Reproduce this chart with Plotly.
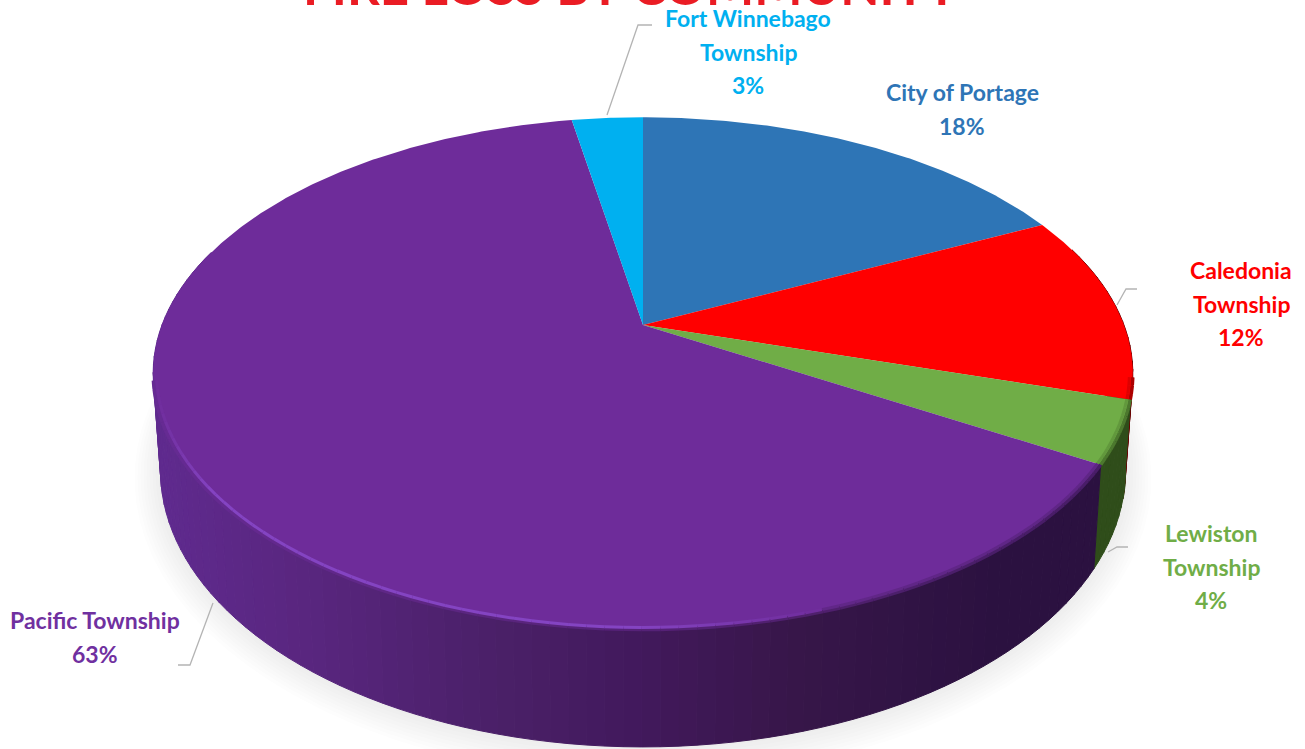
import math
import plotly.graph_objects as go

# ---- data (clockwise from 12 o'clock) ----
names = [["City of Portage"], ["Caledonia", "Township"], ["Lewiston", "Township"], ["Pacific Township"], ["Fort Winnebago", "Township"]]
values = [17.7, 11.8, 3.9, 63.4, 2.8]
colors = ["#2e75b6", "#ff0000", "#70ad47", "#6e2c9a", "#00b0f0"]
wall_left = ["#1c4670", "#7a0000", "#2f4d1a", "#5f2a8e", "#006a90"]
wall_right = ["#1c4670", "#6a0000", "#2f4d1a", "#2b1140", "#006a90"]
title_text = "FIRE LOSS BY COMMUNITY"

# ---- projection of the disc ----
W, H = 1305, 749
cx, cy = 643, 325
k = 0.189
a = 481
b = 247
FONT = "Lato"
LINE = 33.5


def top(frac, s=1.0):
    th = 2 * math.pi * frac
    u, v = math.sin(th), math.cos(th)
    w = 1 + k * v
    return cx + a * s * u / w, cy - b * s * v / w


def bottom(frac, grow=0.0):
    x, y = top(frac)
    bx = cx + 0.985 * (x - cx)
    by = cy + 1.08 * (y - cy) + 93
    if grow:
        mx, my = cx, 425
        d = math.hypot(bx - mx, by - my)
        bx += (bx - mx) / d * grow
        by += (by - my) / d * grow + grow * 0.25
    return bx, by


def hex2rgb(c):
    return tuple(int(c[i:i + 2], 16) for i in (1, 3, 5))


def mix(c1, c2, t):
    t = max(0, min(1, t))
    r1, r2 = hex2rgb(c1), hex2rgb(c2)
    return "#%02x%02x%02x" % tuple(round(p + (q - p) * t) for p, q in zip(r1, r2))


fig = go.Figure()


def poly(xs, ys, fill, line=None, lw=0):
    fig.add_trace(go.Scatter(
        x=xs, y=ys, mode="lines", fill="toself", fillcolor=fill,
        line=dict(color=line or "rgba(0,0,0,0)", width=lw),
        hoverinfo="skip", showlegend=False))


def path(xs, ys, color, lw):
    fig.add_trace(go.Scatter(x=xs, y=ys, mode="lines", line=dict(color=color, width=lw),
                             hoverinfo="skip", showlegend=False))


fr = [i / 720 for i in range(721)]

# soft shadow
for g in (26, 23, 20, 17, 14, 11, 8, 5, 2):
    pts = [bottom(f, g) for f in fr]
    poly([p[0] for p in pts], [p[1] for p in pts], "rgba(60,60,50,0.011)")

# slice limits
total = sum(values)
edges = [0]
for val in values:
    edges.append(edges[-1] + val / total)


def wall_colour(i, x):
    t = (x - 160) / (1000 - 160)
    if i == 3:
        stops = [(0, "#5f2a8e"), (0.17, "#59267f"), (0.4, "#4a2068"), (0.57, "#42195c"),
                 (0.76, "#371649"), (1, "#2b1140")]
        t = max(0, min(1, t))
        for (t0, c0), (t1, c1) in zip(stops, stops[1:]):
            if t <= t1:
                return mix(c0, c1, (t - t0) / (t1 - t0))
    return mix(wall_left[i], wall_right[i], t)


# side wall, strip by strip, only the front part can show
STEP = 0.005
for i in range(len(values)):
    f = edges[i]
    while f < edges[i + 1] - 1e-9:
        g = min(f + STEP, edges[i + 1])
        if 0.2 < (f + g) / 2 < 0.8:
            p1, p2, p3, p4 = top(f), top(g), bottom(g), bottom(f)
            c = wall_colour(i, (p1[0] + p2[0]) / 2)
            poly([p1[0], p2[0], p3[0], p4[0], p1[0]], [p1[1], p2[1], p3[1], p4[1], p1[1]], c, c, 1)
        f = g

# the green wall takes the silhouette below the red corner
pts = [top(edges[2])] + [bottom(edges[2] - 0.004 * j) for j in range(32)]
poly([p[0] for p in pts], [p[1] for p in pts], wall_left[2], wall_left[2], 1.5)

# top face
for i in range(len(values)):
    n = max(2, int(values[i] * 8))
    pts = [top(edges[i] + (edges[i + 1] - edges[i]) * j / n) for j in range(n + 1)]
    xs = [cx] + [p[0] for p in pts] + [cx]
    ys = [cy] + [p[1] for p in pts] + [cy]
    poly(xs, ys, colors[i])

# soft bevel where the top meets the wall
for i in range(len(values)):
    f = edges[i]
    while f < edges[i + 1] - 1e-9:
        g = min(f + STEP, edges[i + 1])
        mid = (f + g) / 2
        if 0.285 < mid < 0.715:
            p1, p2 = top(f, 1.0), top(g, 1.0)
            x = (p1[0] + p2[0]) / 2
            wc = wall_colour(i, x)
            path([p1[0], p2[0]], [p1[1], p2[1]], mix(colors[i], wc, 0.55), 3.5)
            q1, q2 = top(f, 0.993), top(g, 0.993)
            if i == 3 and x < 830:
                fade = min(1, (830 - x) / 200) * min(1, (x - 150) / 60)
                path([q1[0], q2[0]], [q1[1], q2[1]], mix(colors[i], "#8444c2", fade), 3)
            else:
                path([q1[0], q2[0]], [q1[1], q2[1]], mix(colors[i], wc, 0.22), 3)
        f = g

# leader lines
leader_x = [[652, 638, 607], [1137, 1126, 1117], [1128, 1117, 1108], [178, 190, 213]]
leader_y = [[25, 25, 115], [289, 289, 305], [547, 547, 552], [665, 665, 603]]
for lx, ly in zip(leader_x, leader_y):
    path(lx, ly, "#b4b4b4", 1.3)

# data labels: one annotation per line, first line centre given
label_x = [962, 1241, 1211, 95, 748]
label_y = [92, 270, 533, 620, 18]
label_colors = ["#2e75b6", "#ff0000", "#70ad47", "#7030a0", "#00b0f0"]
annotations = []
for i, lines in enumerate(names):
    rows = lines + [f"{round(values[i])}%"]
    for j, row in enumerate(rows):
        annotations.append(dict(
            x=label_x[i], y=label_y[i] + j * LINE, xref="x", yref="y", showarrow=False,
            text=f"<b>{row}</b>", xanchor="center", yanchor="middle",
            font=dict(family=FONT, size=23, color=label_colors[i])))
annotations.append(dict(
    x=631, y=18, xref="x", yref="y", showarrow=False, text=f"<b>{title_text}</b>",
    xanchor="center", yanchor="bottom",
    font=dict(family=FONT, size=51, color="#ea1c24")))

fig.update_layout(
    width=W, height=H, margin=dict(l=0, r=0, t=0, b=0),
    paper_bgcolor="white", plot_bgcolor="white", showlegend=False,
    xaxis=dict(range=[0, W], visible=False, fixedrange=True),
    yaxis=dict(range=[H, 0], visible=False, fixedrange=True),
    annotations=annotations,
)
fig.write_html("out.html", config={"displayModeBar": False},
               post_script="document.body.style.margin='0';document.body.style.overflow='hidden';")
